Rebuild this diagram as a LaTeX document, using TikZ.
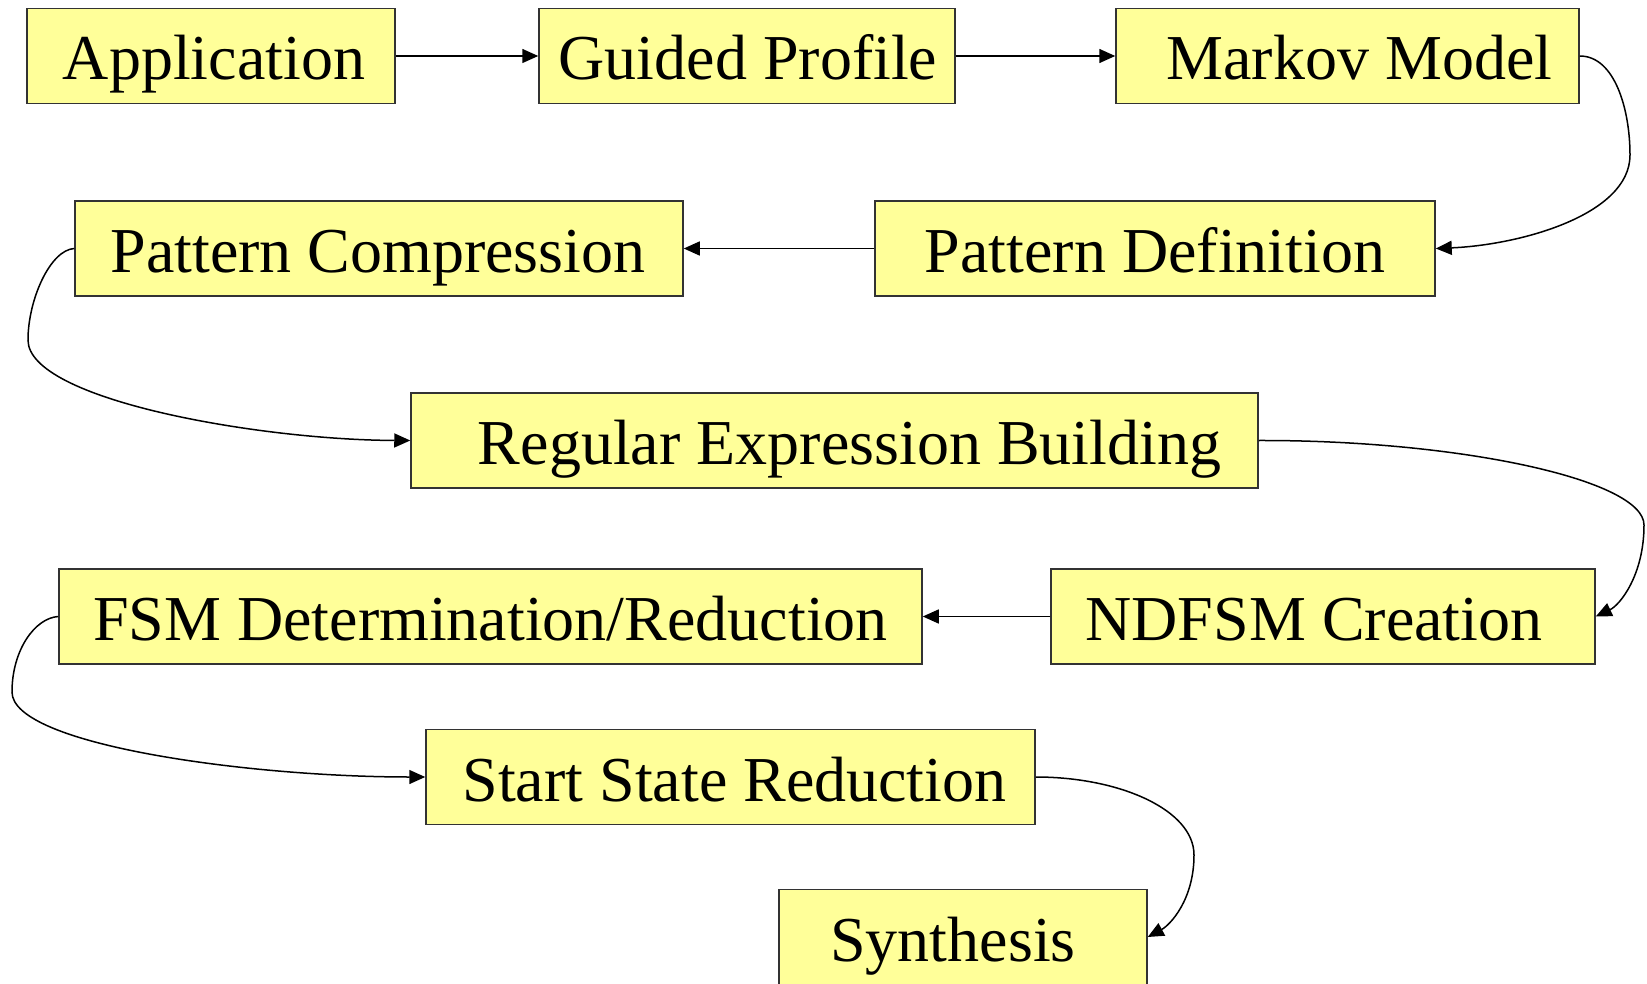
\documentclass[tikz,border=0pt]{standalone}
\usepackage{fontspec}
\setmainfont{Liberation Serif}
\usetikzlibrary{arrows.meta}
\definecolor{boxfill}{HTML}{FFFF99}
\definecolor{boxline}{HTML}{333333}
\begin{document}
\begin{tikzpicture}[x=1pt,y=-1pt,
  box/.style={draw=boxline, fill=boxfill, line width=1.5pt, minimum height=95pt, inner sep=0pt},
  lbl/.style={font=\fontsize{64}{70}\selectfont, anchor=base, inner sep=0pt},
  conn/.style={line width=1.5pt, -{Triangle[length=16pt,width=14pt]}}]
\useasboundingbox (0,0) rectangle (1647,984);
% boxes
\node[box, minimum width=368pt] (app)    at (211,56) {};
\node[box, minimum width=416pt] (guided) at (747,56) {};
\node[box, minimum width=463pt] (markov) at (1347.5,56) {};
\node[box, minimum width=608pt] (pcomp)  at (379,248.5) {};
\node[box, minimum width=560pt] (pdef)   at (1155,248.5) {};
\node[box, minimum width=847pt] (regex)  at (834.5,440.5) {};
\node[box, minimum width=863pt] (fsm)    at (490.5,616.5) {};
\node[box, minimum width=544pt] (ndfsm)  at (1323,616.5) {};
\node[box, minimum width=609pt] (start)  at (730.5,777) {};
\node[box, minimum width=368pt] (synth)  at (963,937) {};
% labels
\node[lbl] (tapp)    at ([xshift=3pt,yshift=-24pt]app.center) {Application};
\node[lbl] (tguided) at ([xshift=1pt,yshift=-24pt]guided.center) {Guided Profile};
\node[lbl] (tmarkov) at ([xshift=12pt,yshift=-24pt]markov.center) {Markov Model};
\node[lbl] (tpcomp)  at ([xshift=-1pt,yshift=-24pt]pcomp.center) {Pattern Compression};
\node[lbl] (tpdef)   at ([xshift=0pt,yshift=-24pt]pdef.center) {Pattern Definition};
\node[lbl] (tregex)  at ([xshift=15pt,yshift=-24pt]regex.center) {Regular Expression Building};
\node[lbl] (tfsm)    at ([xshift=0pt,yshift=-24pt]fsm.center) {FSM Determination/Reduction};
\node[lbl] (tndfsm)  at ([xshift=-9pt,yshift=-24pt]ndfsm.center) {NDFSM Creation};
\node[lbl] (tstart)  at ([xshift=4pt,yshift=-24pt]start.center) {Start State Reduction};
\node[lbl] (tsynth)  at ([xshift=-10pt,yshift=-24pt]synth.center) {Synthesis};
% straight connectors
\draw[conn] (app.east) -- (guided.west);
\draw[conn] (guided.east) -- (markov.west);
\draw[conn] (pdef.west) -- (pcomp.east);
\draw[conn] (ndfsm.west) -- (fsm.east);
% curved connectors
\draw[conn] (markov.east) .. controls (1615,56) and (1630,110) .. (1630,155)
  .. controls (1630,215) and (1520,245) .. (pdef.east);
\draw[conn] (pcomp.west) .. controls (50,250) and (28,300) .. (28,340)
  .. controls (28,400) and (260,440) .. (regex.west);
\draw[conn] (regex.east) .. controls (1460,440) and (1644,480) .. (1644,525)
  .. controls (1644,575) and (1620,605) .. (ndfsm.east);
\draw[conn] (fsm.west) .. controls (35,618) and (12,650) .. (12,692)
  .. controls (12,745) and (250,777) .. (start.west);
\draw[conn] (start.east) .. controls (1120,777) and (1194,810) .. (1194,855)
  .. controls (1194,900) and (1170,925) .. (synth.east);
\end{tikzpicture}
\end{document}
